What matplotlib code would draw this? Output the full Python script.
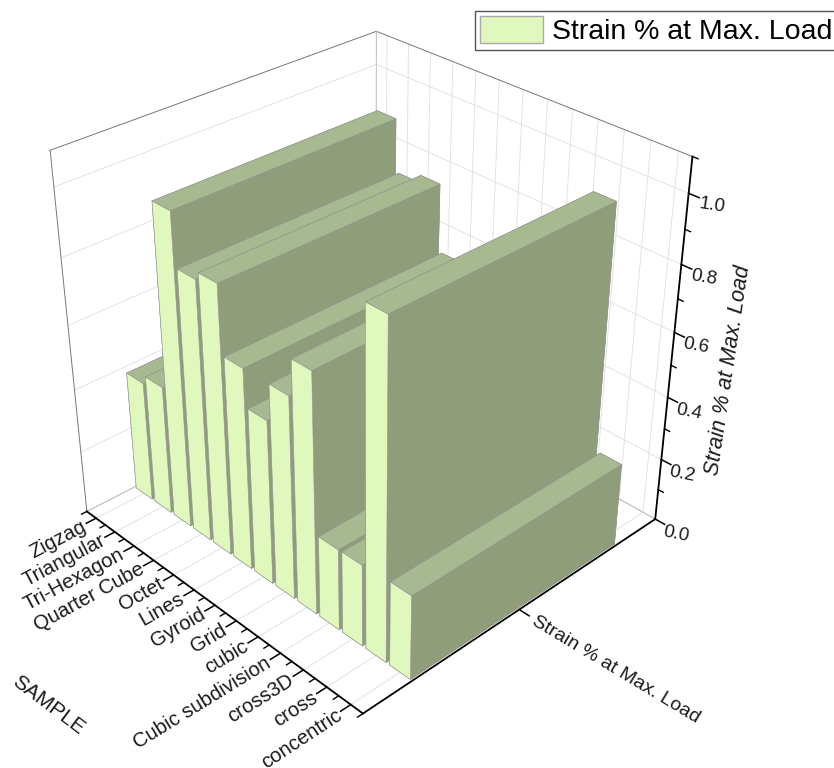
import numpy as np
import matplotlib
matplotlib.use('Agg')
import matplotlib.pyplot as plt
from matplotlib.patches import Patch
from mpl_toolkits.mplot3d import proj3d

plt.rcParams['font.family']=['Liberation Sans','DejaVu Sans']

samples=['Zigzag','Triangular','Tri-Hexagon','Quarter Cube','Octet','Lines','Gyroid','Grid','cubic','Cubic subdivision','cross3D','cross','concentric']
strain=[0.383,0.41,0.968,0.809,0.833,0.627,0.513,0.627,0.738,0.255,0.256,1.003,0.262]
series_name='Strain % at Max. Load'
z_major=[0.0,0.2,0.4,0.6,0.8,1.0]
z_minor=[0.1,0.3,0.5,0.7,0.9,1.1]

light='#E0F8BE'
top='#A6B990'
dark='#8F9D7B'
edge='#8f8f8f'
grid='#e2e2e2'
ink='#1a1a1a'

fig=plt.figure(figsize=(8.34,7.68),dpi=100)
ax=fig.add_subplot(projection='3d',computed_zorder=False)
ax.set_position([-24.17/834,28.24/768,768/834,1])
ax.view_init(31.76,-43.73)
ax.set_proj_type('persp',focal_length=0.44)
ax.set_box_aspect((1,1,0.994),zoom=0.932)
x0,x1=0.5,13.5
y0,y1=0.5,1.5
z0,z1=0.0,1.1
ax.set_xlim(x0,x1);ax.set_ylim(y0,y1);ax.set_zlim(z0,z1)
ax.set_axis_off()
ax.apply_aspect()
M=ax.get_proj()

def label(x,y,z,s,d,**kw):
    # text at a 3d point, turned along the projected direction d
    a,b,_=proj3d.proj_transform(np.array([x,x+d[0]]),np.array([y,y+d[1]]),np.array([z,z+d[2]]),M)
    q=ax.transData.transform(np.c_[a,b])
    angle=np.degrees(np.arctan2(q[1,1]-q[0,1],q[1,0]-q[0,0]))
    ax.text2D(a[0],b[0],s,transform=ax.transData,rotation=angle,rotation_mode='anchor',color=ink,**kw)

# walls and floor
for x in np.arange(1,14):
    ax.plot([x,x],[y0,y1],[0,0],color=grid,lw=0.7,zorder=1)
    ax.plot([x,x],[y1,y1],[z0,z1],color=grid,lw=0.7,zorder=1)
for z in z_major:
    ax.plot([x0,x0],[y0,y1],[z,z],color=grid,lw=0.7,zorder=1)
    ax.plot([x0,x1],[y1,y1],[z,z],color=grid,lw=0.7,zorder=1)
ax.plot([x0,x0,x1],[y0,y1,y1],[z1,z1,z1],color='#777777',lw=0.7,zorder=1)
ax.plot([x0,x0],[y0,y0],[z0,z1],color='#777777',lw=0.7,zorder=1)
ax.plot([x0,x0],[y1,y1],[z0,z1],color='#bbbbbb',lw=0.7,zorder=1)
ax.plot([x0,x0,x1],[y0,y1,y1],[z0,z0,z0],color='#bbbbbb',lw=0.7,zorder=1)

# bars, back to front
w=0.85
depth=0.7
for i,v in enumerate(strain):
    ax.bar3d(i+1-w/2,1-depth/2,0,w,depth,v,color=[light,top,light,light,light,dark],
             edgecolor=edge,linewidth=0.4,shade=False,zorder=5+i)

# axis lines and ticks
ax.plot([x0,x1],[y0,y0],[0,0],color='black',lw=1.3,zorder=30)
ax.plot([x1,x1],[y0,y1],[0,0],color='black',lw=1.3,zorder=30)
ax.plot([x1,x1],[y1,y1],[z0,z1],color='black',lw=1.3,zorder=30)
for i,name in enumerate(samples):
    ax.plot([i+1,i+1],[y0,y0-0.03],[0,0],color='black',lw=1.1,zorder=30)
    label(i+1.06,y0-0.0366,0,name,(0,0.05,0),fontsize=14.6,ha='right',va='center')
for x in np.arange(x0,x1+0.5):
    ax.plot([x,x],[y0,y0-0.016],[0,0],color='black',lw=1.0,zorder=30)
ax.plot([x1,x1+0.4],[1,1],[0,0],color='black',lw=1.1,zorder=30)
for z in z_major:
    ax.plot([x1,x1+0.38],[y1,y1],[z,z],color='black',lw=1.1,zorder=30)
    label(x1+0.95,y1-0.012,z,f'{z:.1f}',(1.3,0.05,0),fontsize=13.5,ha='center',va='center')
for z in z_minor:
    ax.plot([x1,x1+0.2],[y1,y1],[z,z],color='black',lw=1.0,zorder=30)

fig.text(48/834,1-705/768,'SAMPLE',fontsize=15,rotation=-37,ha='center',va='center',color=ink)
fig.text(616/834,1-670/768,series_name,fontsize=14,rotation=-31,ha='center',va='center',color=ink)
fig.text(728/834,1-370/768,series_name,fontsize=15.5,rotation=81.5,style='italic',ha='center',va='center',color=ink)

fig.legend(handles=[Patch(facecolor=light,edgecolor='#aaaaaa',label=series_name)],loc='upper left',
           bbox_to_anchor=(475/834,1-11/768),fontsize=20.5,fancybox=False,framealpha=1,edgecolor='#555555',
           handlelength=2.22,handleheight=1.07,borderpad=0.17,handletextpad=0.32,borderaxespad=0)
fig.savefig('out.png',dpi=100)
